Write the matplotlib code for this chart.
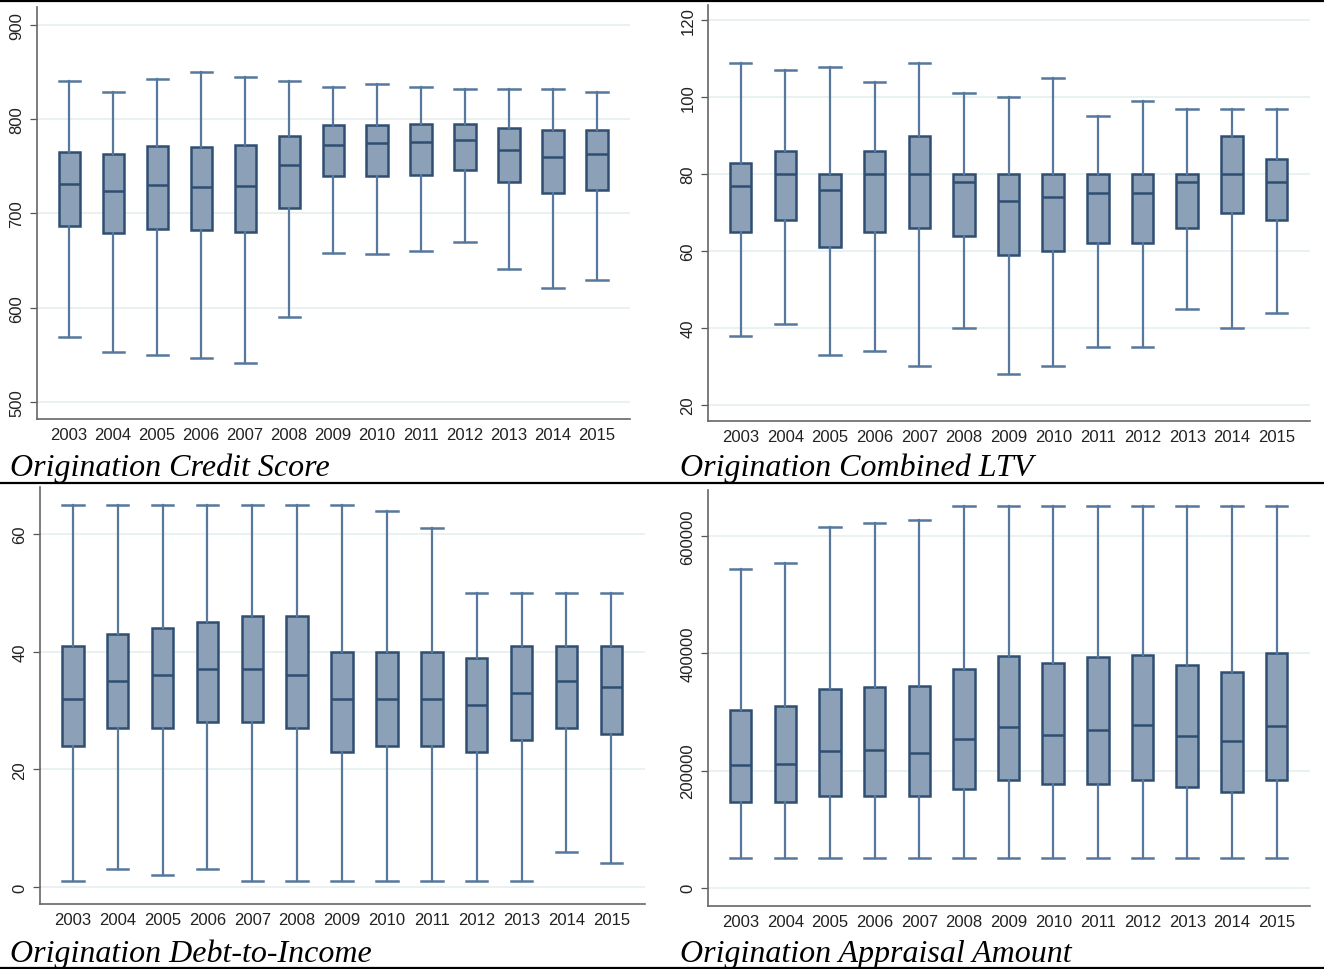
import matplotlib.pyplot as plt
from matplotlib.lines import Line2D

years = [str(y) for y in range(2003, 2016)]

# whisker low, Q1, median, Q3, whisker high by year
credit_low = [569, 553, 550, 547, 541, 590, 658, 657, 660, 670, 641, 621, 629]
credit_q1 = [687, 679, 683, 682, 680, 706, 740, 740, 741, 746, 733, 722, 725]
credit_med = [731, 724, 730, 728, 729, 751, 773, 775, 776, 778, 767, 760, 763]
credit_q3 = [765, 763, 772, 771, 773, 782, 794, 794, 795, 795, 791, 789, 789]
credit_high = [841, 829, 843, 850, 845, 840, 834, 837, 834, 832, 832, 832, 829]

ltv_low = [38, 41, 33, 34, 30, 40, 28, 30, 35, 35, 45, 40, 44]
ltv_q1 = [65, 68, 61, 65, 66, 64, 59, 60, 62, 62, 66, 70, 68]
ltv_med = [77, 80, 76, 80, 80, 78, 73, 74, 75, 75, 78, 80, 78]
ltv_q3 = [83, 86, 80, 86, 90, 80, 80, 80, 80, 80, 80, 90, 84]
ltv_high = [109, 107, 108, 104, 109, 101, 100, 105, 95, 99, 97, 97, 97]

dti_low = [1, 3, 2, 3, 1, 1, 1, 1, 1, 1, 1, 6, 4]
dti_q1 = [24, 27, 27, 28, 28, 27, 23, 24, 24, 23, 25, 27, 26]
dti_med = [32, 35, 36, 37, 37, 36, 32, 32, 32, 31, 33, 35, 34]
dti_q3 = [41, 43, 44, 45, 46, 46, 40, 40, 40, 39, 41, 41, 41]
dti_high = [65, 65, 65, 65, 65, 65, 65, 64, 61, 50, 50, 50, 50]

appr_low = [51000] * 13
appr_q1 = [146000, 146000, 157000, 157000, 157000, 169000, 184000, 177000, 177000, 184000, 172000, 163000, 184000]
appr_med = [209000, 211000, 233000, 235000, 230000, 254000, 274000, 261000, 269000, 278000, 259000, 250000, 276000]
appr_q3 = [303000, 310000, 339000, 343000, 344000, 373000, 395000, 383000, 394000, 397000, 380000, 368000, 400000]
appr_high = [544000, 554000, 615000, 622000, 627000, 650000, 650000, 650000, 650000, 650000, 650000, 650000, 650000]

fill = '#8ca1b7'
edge = '#2e4e72'
whisk = '#55789c'
grid = '#e6efef'


def box_panel(ax, low, q1, med, q3, high, ylim, yticks, ytick_labels):
    stats = []
    for i in range(len(years)):
        stats.append({'whislo': low[i], 'q1': q1[i], 'med': med[i],
                      'q3': q3[i], 'whishi': high[i], 'fliers': []})
    ax.bxp(stats, positions=range(1, len(years) + 1), widths=0.48,
           patch_artist=True, showfliers=False,
           boxprops=dict(facecolor=fill, edgecolor=edge, linewidth=1.8),
           medianprops=dict(color=edge, linewidth=1.8),
           whiskerprops=dict(color=whisk, linewidth=1.6),
           capprops=dict(color=whisk, linewidth=1.8),
           capwidths=0.48)
    ax.set_xlim(0.27, 13.75)
    ax.set_ylim(*ylim)
    ax.set_yticks(yticks)
    ax.set_yticklabels(ytick_labels, rotation=90, va='center',
                       fontsize=12, color='#222222')
    ax.set_xticks(range(1, len(years) + 1))
    ax.set_xticklabels(years, fontsize=12, color='#222222')
    ax.tick_params(axis='x', length=0, pad=6)
    ax.tick_params(axis='y', length=5, width=0.9, color='#555555', pad=4)
    ax.grid(axis='y', color=grid, linewidth=1.2)
    ax.set_axisbelow(True)
    for s in ['top', 'right']:
        ax.spines[s].set_visible(False)
    for s in ['left', 'bottom']:
        ax.spines[s].set_color('#666666')
        ax.spines[s].set_linewidth(1.2)


plt.rcParams['font.family'] = ['Liberation Sans', 'DejaVu Sans']

fig = plt.figure(figsize=(13.24, 9.70), dpi=100)
W, H = 1324, 970


def axes_px(left, top, right, bottom):
    return fig.add_axes([left / W, 1 - bottom / H, (right - left) / W, (bottom - top) / H])


ax1 = axes_px(37, 8, 630, 420)
box_panel(ax1, credit_low, credit_q1, credit_med, credit_q3, credit_high,
          (482, 919), [500, 600, 700, 800, 900], ['500', '600', '700', '800', '900'])

ax2 = axes_px(708, 6, 1310, 422)
box_panel(ax2, ltv_low, ltv_q1, ltv_med, ltv_q3, ltv_high,
          (15.8, 124), [20, 40, 60, 80, 100, 120], ['20', '40', '60', '80', '100', '120'])

ax3 = axes_px(40, 488, 645, 905)
box_panel(ax3, dti_low, dti_q1, dti_med, dti_q3, dti_high,
          (-2.9, 68), [0, 20, 40, 60], ['0', '20', '40', '60'])

ax4 = axes_px(708, 491, 1310, 907)
box_panel(ax4, appr_low, appr_q1, appr_med, appr_q3, appr_high,
          (-30900, 678000), [0, 200000, 400000, 600000], ['0', '200000', '400000', '600000'])

title_kw = dict(fontsize=23, style='italic', family='Liberation Serif', color='black')
fig.text(10 / W, 1 - 476 / H, 'Origination Credit Score', **title_kw)
fig.text(680 / W, 1 - 476 / H, 'Origination Combined LTV', **title_kw)
fig.text(10 / W, 1 - 962 / H, 'Origination Debt-to-Income', **title_kw)
fig.text(680 / W, 1 - 962 / H, 'Origination Appraisal Amount', **title_kw)

# separator rules across the full width
for y in [1.5, 484, 968.5]:
    fig.add_artist(Line2D([0, 1], [1 - y / H, 1 - y / H], color='black', linewidth=1.6))

fig.savefig('out.png', dpi=100)
